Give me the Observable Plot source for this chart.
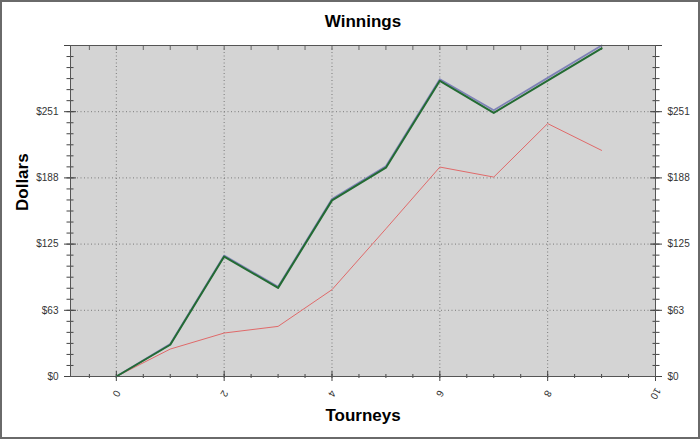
<!DOCTYPE html>
<html>
<head>
<meta charset="utf-8">
<script src="https://cdn.jsdelivr.net/npm/d3@7"></script>
<script src="https://cdn.jsdelivr.net/npm/@observablehq/plot@0.6"></script>
<style>
  html, body { margin: 0; padding: 0; background: #fff; }
  #wrap { position: relative; width: 700px; height: 439px; overflow: hidden; }
  #border { position: absolute; left: 0; top: 0; width: 700px; height: 439px; box-sizing: border-box; border: 2px solid #6a6a6a; pointer-events: none; }
</style>
</head>
<body>
<div id="wrap"><div id="chart"></div><div id="border"></div></div>
<script>
// ---- data ----
const tourneys = [0, 1, 2, 3, 4, 5, 6, 7, 8, 9];
const blueSeries = [0, 30.8, 114.6, 85, 168.2, 199.2, 281.8, 252.3, 283, 313.7];
const greenSeries = [0, 30.1, 113.7, 84, 166.9, 197.9, 280.2, 249.8, 280.4, 311];
const redSeries = [0, 26, 41.2, 47.5, 82.3, 140, 198.5, 189, 239.7, 214.3];

const xDomain = [-0.85, 10];
const yDomain = [0, 313.7];

const xMajorTicks = [0, 2, 4, 6, 8, 10];
const xGridTicks = [0, 2, 4, 6, 8];
const xMinorTicks = [-0.5, 0, 0.5, 1, 1.5, 2, 2.5, 3, 3.5, 4, 4.5, 5, 5.5, 6, 6.5, 7, 7.5, 8, 8.5, 9, 9.5, 10];
const xTickLabels = ["0", "2", "4", "6", "8", "10"];

const yMajorTicks = [0, 62.74, 125.48, 188.22, 250.96, 313.7];
const yLabelTicks = [0, 62.74, 125.48, 188.22, 250.96];
const yTickLabels = ["$0", "$63", "$125", "$188", "$251"];
const yGridTicks = [62.74, 125.48, 188.22, 250.96];
const yMinorTicks = [0, 10.46, 20.91, 31.37, 41.83, 52.28, 62.74, 73.2, 83.65, 94.11, 104.57, 115.02, 125.48,
  135.94, 146.39, 156.85, 167.31, 177.76, 188.22, 198.68, 209.13, 219.59, 230.05, 240.5, 250.96,
  261.42, 271.87, 282.33, 292.79, 303.24, 313.7];

const titleText = "Winnings";
const xLabel = "Tourneys";
const yLabel = "Dollars";

const table = [];
tourneys.forEach((t, i) => {
  table.push({series: "blue", t, v: blueSeries[i]});
  table.push({series: "green", t, v: greenSeries[i]});
  table.push({series: "red", t, v: redSeries[i]});
});

const tickColor = "#444";
const blank = () => "";

const chart = Plot.plot({
  width: 700,
  height: 439,
  marginLeft: 70,
  marginRight: 45,
  marginTop: 45,
  marginBottom: 63,
  style: {fontFamily: "'Liberation Sans', Arial, sans-serif", fontSize: "10px", background: "transparent", overflow: "visible"},
  x: {domain: xDomain},
  y: {domain: yDomain},
  marks: [
    Plot.frame({fill: "#d4d4d4"}),
    Plot.gridX(xGridTicks, {stroke: "#7a7a7a", strokeOpacity: 1, strokeDasharray: "1,2.5"}),
    Plot.gridY(yGridTicks, {stroke: "#7a7a7a", strokeOpacity: 1, strokeDasharray: "1,2.5"}),
    // left axis ticks
    Plot.axisY(yMinorTicks, {anchor: "left", tickSize: 7, dx: 3.5, tickFormat: blank, label: null, stroke: tickColor}),
    Plot.axisY(yMajorTicks, {anchor: "left", tickSize: 12, dx: 6, tickFormat: blank, label: null, stroke: tickColor}),
    // right axis ticks
    Plot.axisY(yMinorTicks, {anchor: "right", tickSize: 7, dx: -3.5, tickFormat: blank, label: null, stroke: tickColor}),
    Plot.axisY(yMajorTicks, {anchor: "right", tickSize: 12, dx: -6, tickFormat: blank, label: null, stroke: tickColor}),
    // bottom axis ticks
    Plot.axisX(xMinorTicks, {anchor: "bottom", tickSize: 4, dy: -2, tickFormat: blank, label: null, stroke: tickColor}),
    Plot.axisX(xMajorTicks, {anchor: "bottom", tickSize: 10, dy: -5, tickFormat: blank, label: null, stroke: tickColor}),
    // top axis ticks
    Plot.axisX(xMinorTicks, {anchor: "top", tickSize: 4, dy: 4, tickFormat: blank, label: null, stroke: "#666"}),
    // tick labels
    Plot.text(yLabelTicks, {y: d => d, text: (d, i) => yTickLabels[i], frameAnchor: "left", dx: -12, textAnchor: "end", lineAnchor: "middle", fill: "#333", fontSize: 10}),
    Plot.text(yLabelTicks, {y: d => d, text: (d, i) => yTickLabels[i], frameAnchor: "right", dx: 12, textAnchor: "start", lineAnchor: "middle", fill: "#333", fontSize: 10}),
    Plot.text(xMajorTicks, {x: d => d, text: (d, i) => xTickLabels[i], frameAnchor: "bottom", dy: 17, rotate: 120, textAnchor: "middle", lineAnchor: "middle", fill: "#333", fontSize: 10}),
    // series lines
    Plot.line(table.filter(d => d.series === "red"), {x: "t", y: "v", stroke: "#e06a6a", strokeWidth: 1}),
    Plot.line(table.filter(d => d.series === "blue"), {x: "t", y: "v", stroke: "#7f82b8", strokeWidth: 1.8}),
    Plot.line(table.filter(d => d.series === "green"), {x: "t", y: "v", stroke: "#236b33", strokeWidth: 2}),
    // plot border
    Plot.frame({stroke: "#555", strokeWidth: 1}),
    // titles
    Plot.text([titleText], {frameAnchor: "top", dy: -24, lineAnchor: "middle", fontSize: 17, fontWeight: "bold", fill: "#000"}),
    Plot.text([xLabel], {frameAnchor: "bottom", dy: 39, lineAnchor: "middle", fontSize: 17, fontWeight: "bold", fill: "#000"}),
    Plot.text([yLabel], {frameAnchor: "left", dx: -48, rotate: -90, lineAnchor: "middle", fontSize: 17, fontWeight: "bold", fill: "#000"})
  ]
});
document.getElementById("chart").appendChild(chart);
</script>
</body>
</html>
